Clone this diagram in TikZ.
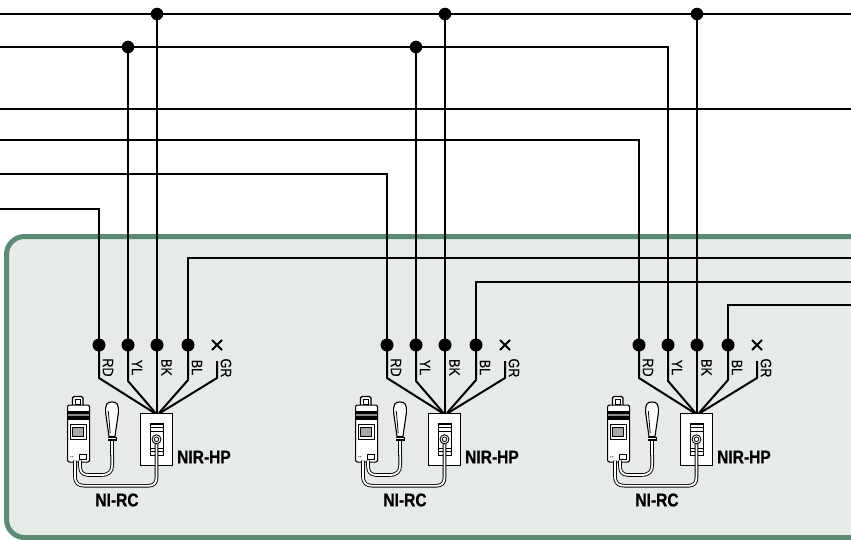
\documentclass[tikz,border=0pt]{standalone}
\usepackage{fontspec}
\usetikzlibrary{calc}
\setmainfont{Liberation Sans}
\newfontfamily\condfont[FakeStretch=0.84,FakeBold=0.4]{Liberation Sans}
\newfontfamily\condbold[FakeStretch=0.84,FakeBold=0.6]{Liberation Sans Bold}
\definecolor{boxgreen}{HTML}{5B8B73}
\definecolor{boxfill}{HTML}{E6EBE8}
\begin{document}
\begin{tikzpicture}[x=1pt,y=-1pt,
  wire/.style={line width=2pt,draw=black},
  jdot/.style={circle,fill=black,inner sep=0pt,minimum size=12.5pt},
  tdot/.style={circle,fill=black,inner sep=0pt,minimum size=13pt},
  wlab/.style={font=\condfont\fontsize{15}{15}\selectfont,rotate=-90,inner sep=0pt},
  biglab/.style={font=\condbold\fontsize{18.5}{18.5}\selectfont,inner sep=0pt},
  cable/.style={line width=0.9pt,draw=black,double=white,double distance=1.8pt},
  dev/.style={draw=black,line width=1.1pt,fill=white},
  thin/.style={line width=0.8pt,draw=black}]
\useasboundingbox (0,0) rectangle (851,540);
\fill[white] (0,0) rectangle (851,540);
% green panel
\draw[line width=5pt,draw=boxgreen,fill=boxfill,rounded corners=18pt]
  (880,236.5) -- (6.5,236.5) -- (6.5,537.5) -- (880,537.5);
% bus coordinates
\coordinate (b1w) at (0,14); \coordinate (b1e) at (851,14);
\coordinate (b2w) at (0,47);
\coordinate (b3w) at (0,109); \coordinate (b3e) at (851,109);
\coordinate (b4w) at (0,140);
\coordinate (b5w) at (0,174);
\coordinate (b6w) at (0,209);
\coordinate (c1e) at (851,258);
\coordinate (c2e) at (851,282);
\coordinate (c3e) at (851,305);
% junction dots
\node[jdot] (j1) at (157,14) {};
\node[jdot] (j2) at (445,14) {};
\node[jdot] (j3) at (697,14) {};
\node[jdot] (k1) at (128,47) {};
\node[jdot] (k2) at (416,47) {};
% units
\foreach \u/\o in {1/0,2/288,3/540}{
  \begin{scope}[xshift=\o pt]
  \node[tdot] (tRD\u) at (99,345) {};
  \node[tdot] (tYL\u) at (128,345) {};
  \node[tdot] (tBK\u) at (157,345) {};
  \node[tdot] (tBL\u) at (188,345) {};
  \coordinate (tGR\u) at (217,345);
  \coordinate (gGR\u) at (217,361);
  \draw[wire] ($(tGR\u)+(-5,-5)$) -- ($(tGR\u)+(5,5)$);
  \draw[wire] ($(tGR\u)+(-5,5)$) -- ($(tGR\u)+(5,-5)$);
  % NIR-HP plate
  \node[dev,rectangle,minimum width=31.7pt,minimum height=52.3pt,inner sep=0pt,anchor=north west] (hp\u) at (140,412.7) {};
  % fan wires
  \draw[wire] (tRD\u.center) -- (99,378) -- (154.5,413);
  \draw[wire] (tYL\u.center) -- (128,381) -- (155.5,413);
  \draw[wire] (tBK\u.center) -- (157,413);
  \draw[wire] (tBL\u.center) -- (188,380) -- (159,413);
  \draw[wire] (gGR\u) -- (217,378) -- (160,413);
  % labels
  \node[wlab] (lRD\u) at (108,367.5) {RD};
  \node[wlab] (lYL\u) at (137,367.5) {YL};
  \node[wlab] (lBK\u) at (166.5,367.5) {BK};
  \node[wlab] (lBL\u) at (197,367.5) {BL};
  \node[wlab] (lGR\u) at (226,368) {GR};
  % switch slot
  \draw[line width=0.9pt,fill=white] (150,423.3) rectangle (163.3,455);
  \fill[black] (150,423.3) rectangle (163.3,425.3);
  \draw[thin] (150,427.8) -- (163.3,427.8);
  \draw[thin] (150,431) -- (163.3,431);
  \draw[thin] (150,448.5) -- (163.3,448.5);
  \draw[thin] (150,451.8) -- (163.3,451.8);
  % remote NI-RC
  \draw[line width=1.1pt,fill=white,rounded corners=1.5pt] (72.5,405) -- (72.5,396.5) -- (83,396.5) -- (83,405);
  \draw[line width=0.9pt] (75,399.5) rectangle (80.5,404);
  \node[dev,rectangle,rounded corners=2pt,minimum width=22pt,minimum height=57pt,inner sep=0pt,anchor=north west] (rc\u) at (67,404.5) {};
  \fill[black] (67.5,410.5) rectangle (88.5,414);
  \fill[black!45] (67.5,414) rectangle (88.5,415.8);
  \fill[black] (67.5,415.8) rectangle (88.5,420);
  \draw[line width=0.9pt] (70,424.3) rectangle (86,439.5);
  \draw[line width=0.8pt,fill=black!35] (72.8,427) rectangle (83.3,436.8);
  \fill[black] (70.8,456.8) circle (0.6);
  \fill[black] (72.8,456.8) circle (0.6);
  \draw[line width=0.8pt,fill=white] (79.5,454.3) rectangle (86,459.8);
  % microphone
  \draw[dev] (109,436.5) -- (105.8,414) .. controls (104.8,404) and (107,402) .. (112,402)
     .. controls (117,402) and (119.2,404) .. (118.2,414) -- (115,436.5) -- cycle;
  \draw[thin] (108.3,411) -- (110.2,433);
  \fill[black] (107.5,436.5) rectangle (116.5,440.5);
  \draw[white,line width=0.5pt] (108,438.5) -- (116,438.5);
  \draw[line width=0.8pt,fill=white] (110.7,440.5) rectangle (113.7,455);
  % cables
  \draw[cable] (112.2,455) -- (112.2,465) .. controls (112.2,472) and (108.5,475) .. (101,475)
     -- (88,475) .. controls (82,475) and (80,471) .. (80,466) -- (80,460.5);
  \draw[cable] (75,460.5) -- (75,476) .. controls (75,483) and (78,485.8) .. (85,485.8)
     -- (148,485.8) .. controls (154,485.8) and (156.5,483) .. (156.5,477) -- (156.5,443);
  % jack
  \draw[line width=0.9pt,fill=white] (156.5,439.3) circle (4.5);
  \draw[line width=0.8pt] (156.5,439.3) circle (2.3);
  % device labels
  \node[biglab,anchor=west] (nhp\u) at (177,457) {NIR-HP};
  \node[biglab] (nrc\u) at (117,500) {NI-RC};
  \end{scope}
}
% bus wires
\draw[wire] (b1w) -- (b1e);
\draw[wire] (b2w) -| (tYL3.center);
\draw[wire] (b3w) -- (b3e);
\draw[wire] (b4w) -| (tRD3.center);
\draw[wire] (b5w) -| (tRD2.center);
\draw[wire] (b6w) -| (tRD1.center);
\draw[wire] (j1.center) -- (tBK1.center);
\draw[wire] (j2.center) -- (tBK2.center);
\draw[wire] (j3.center) -- (tBK3.center);
\draw[wire] (k1.center) -- (tYL1.center);
\draw[wire] (k2.center) -- (tYL2.center);
\draw[wire] (tBL1.center) |- (c1e);
\draw[wire] (tBL2.center) |- (c2e);
\draw[wire] (tBL3.center) |- (c3e);
\end{tikzpicture}
\end{document}
